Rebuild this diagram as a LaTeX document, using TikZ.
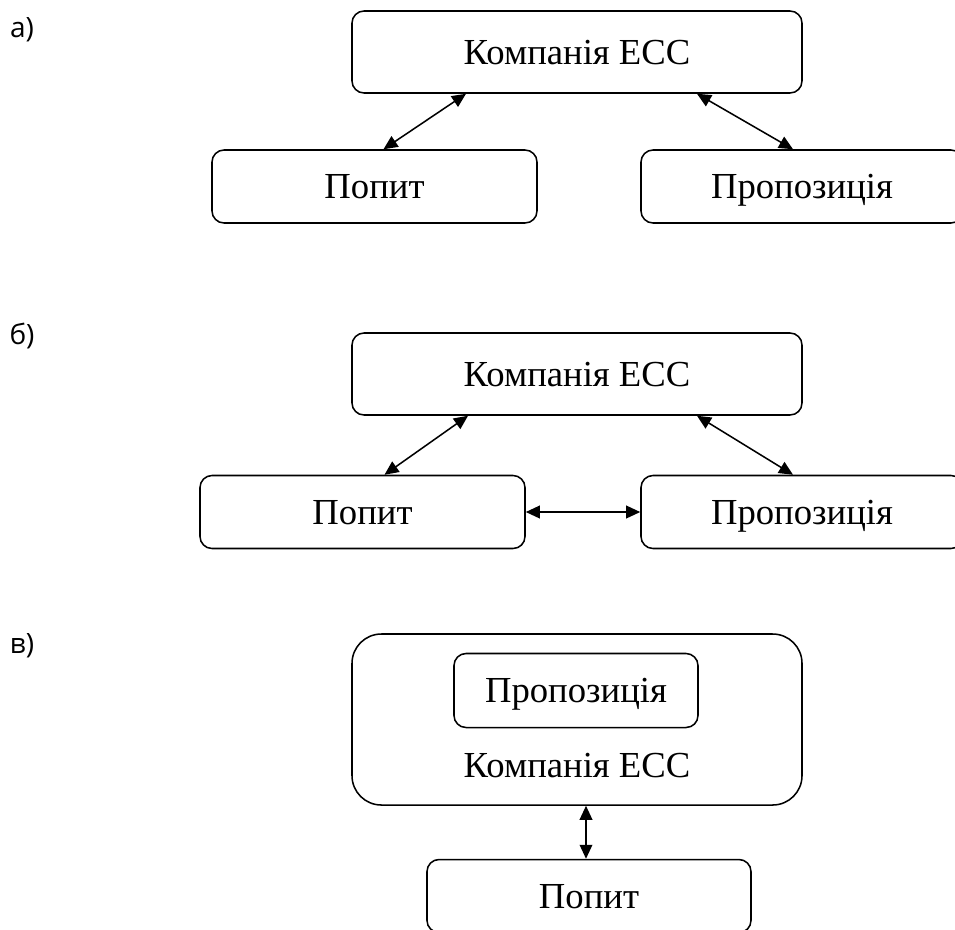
\documentclass[tikz,border=0pt]{standalone}
\usepackage{fontspec}
\setmainfont{Liberation Serif}
\newfontfamily\lblfont{Open Sans}
\usetikzlibrary{arrows.meta,calc}
\begin{document}
\begin{tikzpicture}[x=0.75pt,y=-0.75pt,
  box/.style={draw,line width=1.15pt,rounded corners=9pt,inner sep=0pt,text height=18.2pt,text depth=0pt,font=\fontsize{27.5}{30}\selectfont},
  txt/.style={inner sep=0pt,text height=18.2pt,text depth=0pt,font=\fontsize{27.5}{30}\selectfont},
  lbl/.style={inner sep=0pt,font=\lblfont\fontsize{21}{24}\selectfont},
  link/.style={line width=1.15pt,{Triangle[length=10.5pt,width=9.5pt]}-{Triangle[length=10.5pt,width=9.5pt]}}]
\useasboundingbox (0,0) rectangle (955,929);
\clip (0,0) rectangle (955,929);
% a)
\node[lbl] (la) at (22,30) {а)};
\node[box,minimum width=337.5pt,minimum height=61.5pt] (ta) at (577,52) {Компанія ЕСС};
\node[box,minimum width=243.75pt,minimum height=54.75pt] (pa) at (374.5,186.5) {Попит};
\node[box,minimum width=241.5pt,minimum height=54.75pt] (sa) at (802,186.5) {Пропозиція};
\draw[link] ($(ta.south)+(-111,0)$) -- ($(pa.north)+(9,0)$);
\draw[link] ($(ta.south)+(120,0)$) -- ($(sa.north)+(-9,0)$);
% b)
\node[lbl] (lb) at (22,336) {б)};
\node[box,minimum width=337.5pt,minimum height=61.5pt] (tb) at (577,374) {Компанія ЕСС};
\node[box,minimum width=243.75pt,minimum height=54.75pt] (pb) at (362.5,512) {Попит};
\node[box,minimum width=241.5pt,minimum height=54.75pt] (sb) at (802,512) {Пропозиція};
\draw[link] ($(tb.south)+(-109,0)$) -- ($(pb.north)+(22,0)$);
\draw[link] ($(tb.south)+(120,0)$) -- ($(sb.north)+(-9,0)$);
\draw[link] (pb.east) -- (sb.west);
% c)
\node[lbl] (lc) at (22,646) {в)};
\node[box,rounded corners=22pt,minimum width=337.5pt,minimum height=128.25pt] (tc) at (577,719.5) {};
\node[box,minimum width=183pt,minimum height=55.5pt] (sc) at (576,690.5) {Пропозиція};
\node[txt] (cc) at (577,765) {Компанія ЕСС};
\node[box,minimum width=243pt,minimum height=54.75pt] (pc) at (589,896) {Попит};
\draw[link] (tc.south -| 586,0) -- (pc.north -| 586,0);
\end{tikzpicture}
\end{document}
